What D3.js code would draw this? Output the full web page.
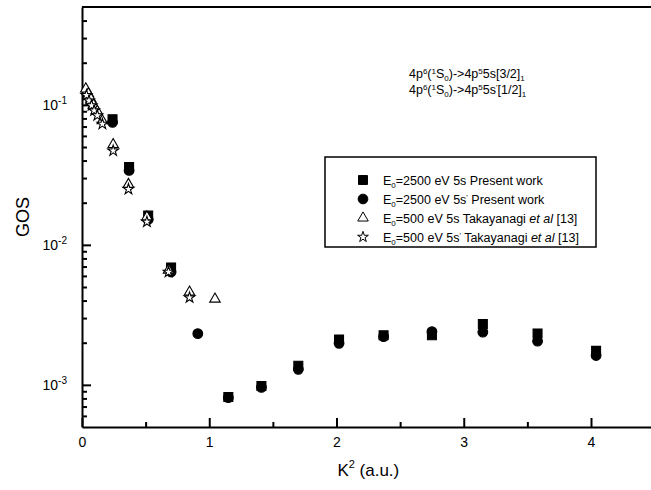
<!DOCTYPE html>
<html>
<head>
<meta charset="utf-8">
<script src="https://cdn.jsdelivr.net/npm/d3@7"></script>
<style>
  body { margin: 0; background: #fff; }
  svg { display: block; font-family: 'Liberation Sans', Arial, sans-serif; }
</style>
</head>
<body>
<div id="chart"></div>
<script>
// K^2 positions of the present (2500 eV) measurements
const k2Present = [0.24, 0.37, 0.52, 0.70, 0.91, 1.15, 1.41, 1.70, 2.02, 2.37, 2.75, 3.15, 3.58, 4.04]
const gos5s = [0.079, 0.036, 0.0162, 0.0069, null, 0.00082, 0.00098, 0.00137, 0.00211, 0.00226, 0.00226, 0.00272, 0.00233, 0.00175]
const gos5sp = [0.075, 0.034, 0.0152, 0.0064, 0.00232, 0.00081, 0.00096, 0.00129, 0.00198, 0.00221, 0.0024, 0.00238, 0.00205, 0.00162]

// Takayanagi et al (500 eV)
const k2Taka5s = [0.03, 0.05, 0.07, 0.09, 0.12, 0.16, 0.245, 0.365, 0.51, 0.68, 0.845, 1.045]
const gosTaka5s = [0.13, 0.12, 0.11, 0.1, 0.09, 0.077, 0.052, 0.027, 0.0158, 0.0066, 0.0046, 0.0041]
const k2Taka5sp = [0.035, 0.055, 0.075, 0.095, 0.12, 0.16, 0.245, 0.365, 0.51, 0.68, 0.845]
const gosTaka5sp = [0.117, 0.107, 0.099, 0.091, 0.084, 0.073, 0.047, 0.025, 0.0146, 0.0064, 0.0042]

const xMajor = [0, 1, 2, 3, 4]
const xMinor = [0.5, 1.5, 2.5, 3.5, 4.5]
const yMajor = [1e-3, 1e-2, 1e-1]
const yMinor = [6e-4, 7e-4, 8e-4, 9e-4, 2e-3, 3e-3, 4e-3, 5e-3, 6e-3, 7e-3, 8e-3, 9e-3,
  2e-2, 3e-2, 4e-2, 5e-2, 6e-2, 7e-2, 8e-2, 9e-2, 0.2, 0.3, 0.4]

const width = 651
const height = 490
const plotLeft = 82
const plotTop = 7
const plotBottom = 427

const svg = d3.select('#chart')
  .append('svg')
  .attr('width', width)
  .attr('height', height)

const x = d3.scaleLinear().domain([0, 4.5]).range([plotLeft, plotLeft + 127.25 * 4.5])
const y = d3.scaleLog().domain([5e-4, 0.5]).range([plotBottom, plotTop])

// x axis (ticks point inward)
const xAxisG = svg.append('g').attr('transform', `translate(0, ${plotBottom})`)
xAxisG.call(d3.axisBottom(x).tickValues(xMajor).tickSizeInner(-9).tickSizeOuter(0).tickPadding(10).tickFormat(d3.format('d')))
xAxisG.append('g').call(d3.axisBottom(x).tickValues(xMinor).tickSizeInner(-5).tickSizeOuter(0).tickFormat(''))
  .select('.domain').remove()
xAxisG.selectAll('.domain').attr('stroke-width', 2)
xAxisG.selectAll('.tick line').attr('stroke-width', 2)
xAxisG.selectAll('.tick text').attr('font-size', 14).attr('fill', '#000')

// y axis
const yAxisG = svg.append('g').attr('transform', `translate(${plotLeft}, 0)`)
yAxisG.call(d3.axisLeft(y).tickValues(yMajor).tickSizeInner(-9).tickSizeOuter(0).tickPadding(15).tickFormat(''))
yAxisG.append('g').call(d3.axisLeft(y).tickValues(yMinor).tickSizeInner(-5).tickSizeOuter(0).tickFormat(''))
  .select('.domain').remove()
yAxisG.selectAll('.domain').attr('stroke-width', 2)
yAxisG.selectAll('.tick line').attr('stroke-width', 2)
yAxisG.selectAll('.tick text')
  .filter(d => yMajor.includes(d))
  .attr('font-size', 14)
  .attr('fill', '#000')
  .each(function (d) {
    const t = d3.select(this)
    t.text('10')
    t.append('tspan')
      .attr('font-size', 10)
      .attr('dy', -6)
      .text(Math.round(Math.log10(d)))
  })

// top frame line
svg.append('line')
  .attr('x1', plotLeft).attr('x2', x(4.5))
  .attr('y1', plotTop).attr('y2', plotTop)
  .attr('stroke', '#000').attr('stroke-width', 2)

// axis titles
svg.append('text')
  .attr('transform', `translate(29, ${(plotTop + plotBottom) / 2}) rotate(-90)`)
  .attr('text-anchor', 'middle')
  .attr('font-size', 18)
  .text('GOS')

const xTitle = svg.append('text')
  .attr('x', (x(0) + x(4.5)) / 2)
  .attr('y', 476)
  .attr('text-anchor', 'middle')
  .attr('font-size', 17)
xTitle.append('tspan').text('K')
xTitle.append('tspan').attr('font-size', 11).attr('dy', -8).text('2')
xTitle.append('tspan').attr('dy', 8).text(' (a.u.)')

// markers
const square = d3.symbol().type(d3.symbolSquare).size(80)
const circle = d3.symbol().type(d3.symbolCircle).size(74)
const triangle = d3.symbol().type(d3.symbolTriangle).size(48)
const star = d3.symbol().type(d3.symbolStar).size(36)

const series = [
  { k: k2Present, v: gos5s, path: square, fill: '#000' },
  { k: k2Present, v: gos5sp, path: circle, fill: '#000' },
  { k: k2Taka5s, v: gosTaka5s, path: triangle, fill: '#fff' },
  { k: k2Taka5sp, v: gosTaka5sp, path: star, fill: '#fff' }
]

series.forEach(s => {
  const pts = s.k.map((k, i) => ({ k, v: s.v[i] })).filter(d => d.v != null)
  svg.append('g')
    .selectAll('path')
    .data(pts)
    .join('path')
    .attr('transform', d => `translate(${x(d.k)}, ${y(d.v)})`)
    .attr('d', s.path())
    .attr('fill', s.fill)
    .attr('stroke', '#000')
    .attr('stroke-width', 1.1)
})

// append a text with super/subscript pieces: [text, shift] where shift is -1 (sup), 1 (sub), 0
function richText (t, parts, small) {
  let cur = 0
  parts.forEach(([str, shift]) => {
    const target = shift === -1 ? -4 : shift === 1 ? 3 : 0
    const ts = t.append('tspan').attr('dy', target - cur).text(str)
    if (shift !== 0) ts.attr('font-size', small)
    cur = target
  })
}

// transition labels top right
const notes = [['[3/2]', null], ['[1/2]', "'"]]
notes.forEach((n, i) => {
  const t = svg.append('text')
    .attr('x', 409)
    .attr('y', 78 + i * 16)
    .attr('font-size', 12.5)
  const parts = [['4p', 0], ['6', -1], ['(', 0], ['1', -1], ['S', 0], ['0', 1], [')->4p', 0], ['5', -1], ['5s', 0]]
  if (n[1]) parts.push([n[1], -1])
  parts.push([n[0], 0], ['1', 1])
  richText(t, parts, 8)
})

// legend
const legendEntries = [
  { energy: '2500', prime: false, src: 'present', path: square, fill: '#000' },
  { energy: '2500', prime: true, src: 'present', path: circle, fill: '#000' },
  { energy: '500', prime: false, src: 'taka', path: triangle, fill: '#fff' },
  { energy: '500', prime: true, src: 'taka', path: star, fill: '#fff' }
]

const legend = svg.append('g')
legend.append('rect')
  .attr('x', 325).attr('y', 157)
  .attr('width', 271).attr('height', 90)
  .attr('fill', '#fff')
  .attr('stroke', '#000')
  .attr('stroke-width', 1.5)

legendEntries.forEach((e, i) => {
  const ly = 180 + i * 19
  legend.append('path')
    .attr('transform', `translate(363, ${ly})`)
    .attr('d', e.path())
    .attr('fill', e.fill)
    .attr('stroke', '#000')
  const t = legend.append('text')
    .attr('x', 383)
    .attr('y', ly + 5)
    .attr('font-size', 12.5)
  const parts = [['E', 0], ['0', 1], [`=${e.energy} eV 5s`, 0]]
  if (e.prime) parts.push(["'", -1])
  parts.push([e.src === 'present' ? ' Present work' : ' Takayanagi ', 0])
  richText(t, parts, 8)
  if (e.src === 'taka') {
    t.append('tspan').attr('font-style', 'italic').text('et al')
    t.append('tspan').text(' [13]')
  }
})
</script>
</body>
</html>
